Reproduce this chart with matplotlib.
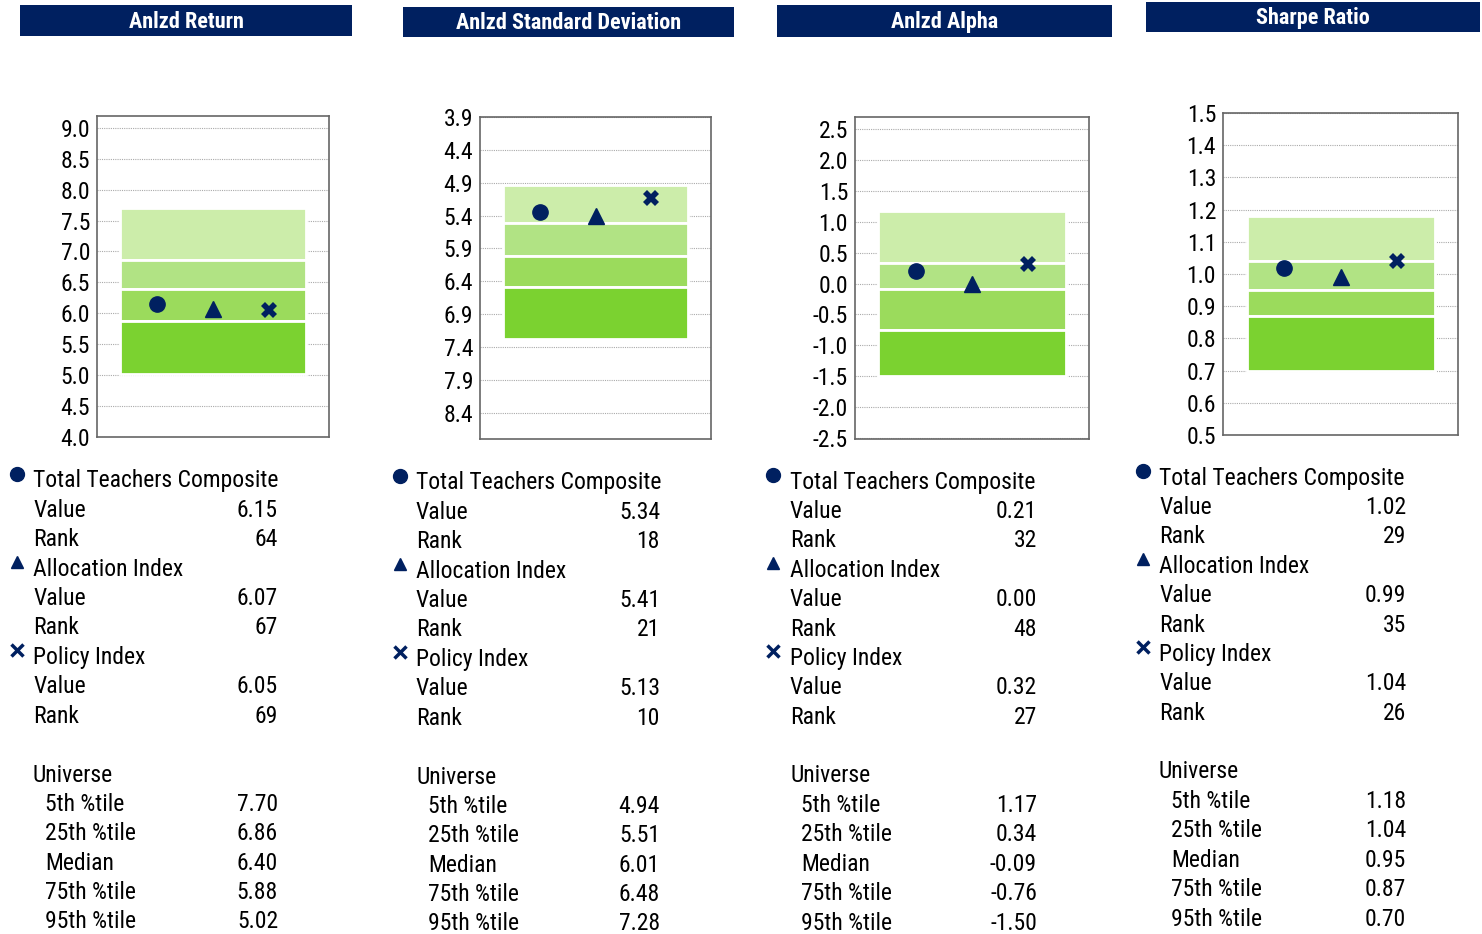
import matplotlib
matplotlib.use("Agg")
import matplotlib.pyplot as plt
from matplotlib.lines import Line2D
from matplotlib.patches import Rectangle

plt.rcParams['font.family'] = ['Roboto Condensed', 'Liberation Sans', 'DejaVu Sans']

# --------- data ----------
titles = ["Anlzd Return", "Anlzd Standard Deviation", "Anlzd Alpha", "Sharpe Ratio"]

# universe percentiles: 5th, 25th, median, 75th, 95th
pct_return = [7.70, 6.86, 6.40, 5.88, 5.02]
pct_stdev = [4.94, 5.51, 6.01, 6.48, 7.28]
pct_alpha = [1.17, 0.34, -0.09, -0.76, -1.50]
pct_sharpe = [1.18, 1.04, 0.95, 0.87, 0.70]

composite_vals = [6.15, 5.34, 0.21, 1.02]
composite_rank = [64, 18, 32, 29]
alloc_vals = [6.07, 5.41, 0.00, 0.99]
alloc_rank = [67, 21, 48, 35]
policy_vals = [6.05, 5.13, 0.32, 1.04]
policy_rank = [69, 10, 27, 26]

ticks_return = [4.0, 4.5, 5.0, 5.5, 6.0, 6.5, 7.0, 7.5, 8.0, 8.5, 9.0]
ticks_stdev = [3.9, 4.4, 4.9, 5.4, 5.9, 6.4, 6.9, 7.4, 7.9, 8.4]
ticks_alpha = [-2.5, -2.0, -1.5, -1.0, -0.5, 0.0, 0.5, 1.0, 1.5, 2.0, 2.5]
ticks_sharpe = [0.5, 0.6, 0.7, 0.8, 0.9, 1.0, 1.1, 1.2, 1.3, 1.4, 1.5]

pct_labels = ["5th %tile", "25th %tile", "Median", "75th %tile", "95th %tile"]

# --------- layout (pixels) ----------
W, H = 1482, 934
NAVY = "#002060"
BAND_COLORS = ["#CCEDAA", "#B1E384", "#9BDB5C", "#7BD230"]
FS = 17

headers = [(20, 5, 352, 36), (403, 7, 734, 37), (777, 5, 1112, 37), (1146, 2, 1480, 32)]
axes_px = [(97, 116, 329, 437), (480, 117, 711, 439), (855, 117, 1089, 439), (1223, 113, 1458, 435)]
ylims = [(4.0, 9.19), (8.8, 3.9), (-2.52, 2.70), (0.5, 1.5)]
# table: marker x, label x, indent x, value right x, first row y
tables = [(17, 33, 45, 278, 481), (400, 416, 428, 660, 483),
          (773, 790, 801, 1037, 482), (1143, 1159, 1171, 1406, 478)]
ROW = 29.4

pcts = [pct_return, pct_stdev, pct_alpha, pct_sharpe]
ticks = [ticks_return, ticks_stdev, ticks_alpha, ticks_sharpe]

fig = plt.figure(figsize=(W / 100, H / 100), dpi=100)


def fx(x):
    return x / W


def fy(y):
    return 1 - y / H


for i in range(4):
    # header bar
    x0, y0, x1, y1 = headers[i]
    fig.add_artist(Rectangle((fx(x0), fy(y1)), fx(x1 - x0), (y1 - y0) / H,
                             transform=fig.transFigure, facecolor=NAVY, edgecolor="none"))
    fig.text(fx((x0 + x1) / 2), fy((y0 + y1) / 2 + 1), titles[i], color="white",
             fontsize=16, fontweight="bold", ha="center", va="center")

    # chart
    ax0, ay0, ax1, ay1 = axes_px[i]
    ax = fig.add_axes([fx(ax0), fy(ay1), fx(ax1 - ax0), (ay1 - ay0) / H])
    p = pcts[i]
    for k in range(4):
        lo, hi = min(p[k], p[k + 1]), max(p[k], p[k + 1])
        ax.bar(0.5, hi - lo, bottom=lo, width=0.8, color=BAND_COLORS[k],
               edgecolor="white", linewidth=2, zorder=2)
    ax.plot(0.26, composite_vals[i], "o", color=NAVY, markersize=11, zorder=3)
    ax.plot(0.5, alloc_vals[i], "^", color=NAVY, markersize=12, zorder=3)
    ax.plot(0.74, policy_vals[i], "X", color=NAVY, markersize=11, markeredgewidth=0, zorder=3)
    ax.set_xlim(0, 1)
    ax.set_ylim(*ylims[i])
    ax.set_xticks([])
    ax.set_yticks(ticks[i])
    ax.set_yticklabels([f"{t:.1f}" for t in ticks[i]])
    ax.tick_params(axis="y", length=0, pad=5, labelsize=FS)
    ax.grid(axis="y", color="#AAAAAA", linestyle=(0, (1, 1)), linewidth=0.8, zorder=0)
    ax.set_axisbelow(True)
    for s in ax.spines.values():
        s.set_color("#666666")
        s.set_linewidth(1.2)

    # table
    mx, lx, ix, vx, ty = tables[i]
    rows = [
        ("o", "Total Teachers Composite", None),
        (None, "Value", f"{composite_vals[i]:.2f}"),
        (None, "Rank", f"{composite_rank[i]}"),
        ("^", "Allocation Index", None),
        (None, "Value", f"{alloc_vals[i]:.2f}"),
        (None, "Rank", f"{alloc_rank[i]}"),
        ("x", "Policy Index", None),
        (None, "Value", f"{policy_vals[i]:.2f}"),
        (None, "Rank", f"{policy_rank[i]}"),
    ]
    for r, (mk, label, val) in enumerate(rows):
        y = ty + r * ROW
        fig.text(fx(lx), fy(y), label, fontsize=FS, ha="left", va="center")
        if val is not None:
            fig.text(fx(vx), fy(y), val, fontsize=FS, ha="right", va="center")
        if mk is not None:
            size = {"o": 10, "^": 9, "x": 8}[mk]
            fig.add_artist(Line2D([fx(mx)], [fy(y - 7)], marker=mk, color=NAVY,
                                  markersize=size, markeredgewidth=2.5 if mk == "x" else 1,
                                  linestyle="none", transform=fig.transFigure))
    uy = ty + 10 * ROW
    fig.text(fx(lx), fy(uy), "Universe", fontsize=FS, ha="left", va="center")
    for k in range(5):
        y = uy + (k + 1) * ROW
        fig.text(fx(ix), fy(y), pct_labels[k], fontsize=FS, ha="left", va="center")
        fig.text(fx(vx), fy(y), f"{p[k]:.2f}", fontsize=FS, ha="right", va="center")

fig.savefig("out.png", dpi=100, facecolor="white")
